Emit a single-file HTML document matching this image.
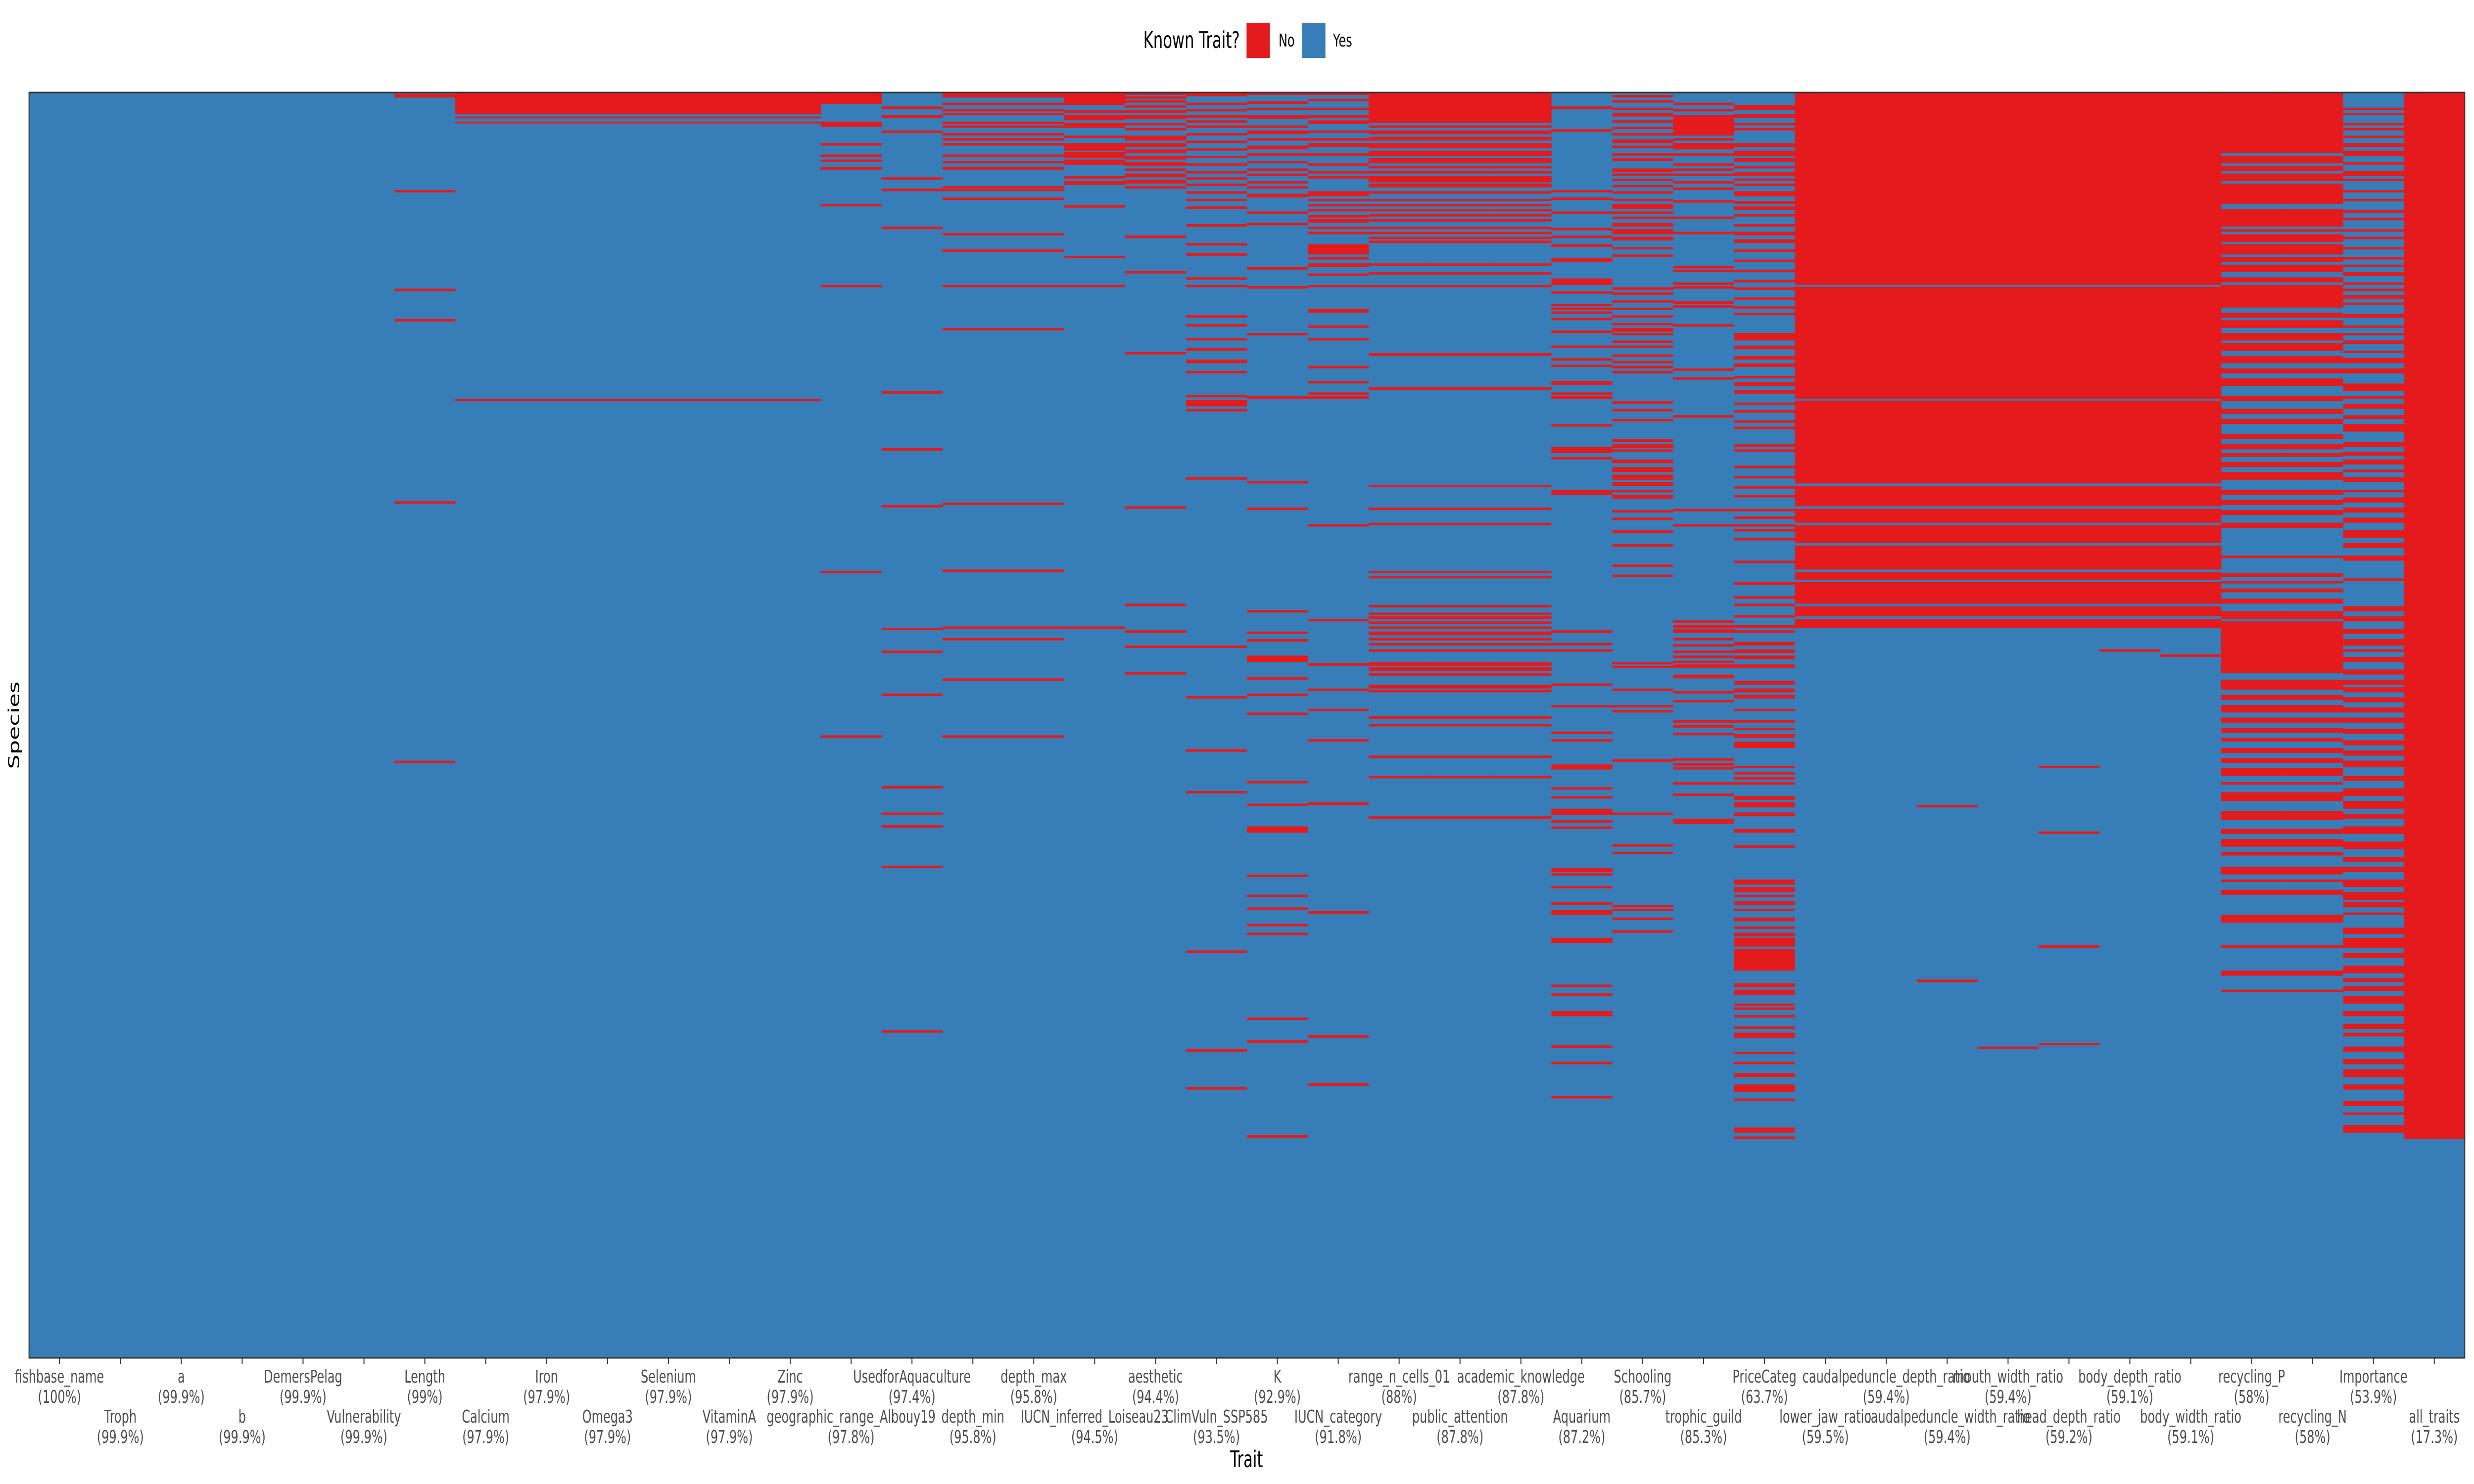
<!DOCTYPE html>
<html><head><meta charset="utf-8"><style>
html,body{margin:0;padding:0;background:#fff;width:100%;height:100%;overflow:hidden;}
svg{display:block;width:100vw;height:100vh;font-family:"DejaVu Sans","Liberation Sans",sans-serif;}
</style></head><body>
<svg id="chart" viewBox="0 0 7500 3000" preserveAspectRatio="none">
<g id="legend">
<text x="3466" y="97" font-size="46" fill="#000">Known Trait?</text>
<rect x="3779" y="46" width="71" height="71" fill="#e41a1c"/>
<text x="3876" y="94" font-size="36" fill="#000">No</text>
<rect x="3947" y="46" width="71" height="71" fill="#377eb8"/>
<text x="4041" y="94" font-size="36" fill="#000">Yes</text>
</g>
<g id="cells"></g>
<rect x="88" y="187" width="7384" height="2558" fill="none" stroke="#333" stroke-width="3"/>
<g id="xaxis"></g>
<text x="3779" y="2966" font-size="46" text-anchor="middle" fill="#000">Trait</text>
<text transform="translate(58,1466) rotate(-90)" font-size="46" text-anchor="middle" fill="#000">Species</text>
</svg>
<script>
const traitNames = ["fishbase_name","Troph","a","b","DemersPelag","Vulnerability","Length","Calcium","Iron","Omega3","Selenium","VitaminA","Zinc","geographic_range_Albouy19","UsedforAquaculture","depth_min","depth_max","IUCN_inferred_Loiseau23","aesthetic","ClimVuln_SSP585","K","IUCN_category","range_n_cells_01","public_attention","academic_knowledge","Aquarium","Schooling","trophic_guild","PriceCateg","lower_jaw_ratio","caudalpeduncle_depth_ratio","caudalpeduncle_width_ratio","mouth_width_ratio","head_depth_ratio","body_depth_ratio","body_width_ratio","recycling_P","recycling_N","Importance","all_traits"];
const knownPct = ["100%","99.9%","99.9%","99.9%","99.9%","99.9%","99%","97.9%","97.9%","97.9%","97.9%","97.9%","97.9%","97.8%","97.4%","95.8%","95.8%","94.5%","94.4%","93.5%","92.9%","91.8%","88%","87.8%","87.8%","87.2%","85.7%","85.3%","63.7%","59.5%","59.4%","59.4%","59.4%","59.2%","59.1%","59.1%","58%","58%","53.9%","17.3%"];
// missing (unknown) species row ranges per trait, in per-mille of species (0 = top row)
const missLength = [[1,4],[77,79],[155,157],[179,181],[323,325],[528,530]];
const missNutrient = [[0,17],[19,20.5],[23,24.5],[242,244]];
const missGeo = [[0,9],[23,27],[40,42],[49,51],[53,55],[59,61],[88,90],[152,154],[378,380],[508,510]];
const missAqua = [[11,13],[18,20],[30,32],[67,69],[76,78],[106,108],[236,238],[281,283],[326,328],[423,425],[441,443],[475,477],[548,550],[569,571],[579,581],[611,613],[741,743]];
const missDepth = [[0,4],[8,10],[13,15],[16,18],[23,25],[26,28],[32,34],[36,38],[40,42],[49,51],[54,56],[59,61],[74,76],[76.5,78],[83,85],[111,113],[124,126],[152,154],[186,188],[324,326],[377,379],[422,424],[431,433],[463,465],[508,510]];
const missIucnInf = [[0,10],[14,16],[18,22],[24,28],[34,36],[40,46],[47,52],[53,57],[66,68],[70,73],[89,91],[129,131],[152,154],[422,424]];
const missAesthetic = [[0,2],[3,5],[6,8],[10,12],[14,16],[18,21],[24,26],[28,30],[34,38],[40,43],[45,48],[50,53],[55,58],[60,62],[64,67],[69,72],[74,76],[113,115],[141,143],[205,207],[327,329],[404,406],[425,427],[437,439],[458,460]];
const missClim = [[0,3],[8,10],[13,15],[18,20],[22,24],[26,28],[32,34],[38,40],[44,46],[50,52],[56,58],[62,64],[67,69],[72,74],[78,80],[84,86],[90,92],[104,106],[119,121],[127,129],[146,148],[152,154],[176,178],[183,185],[194,196],[202,204],[211,214],[220,222],[239,241],[243,248],[250,252],[304,306],[437,439],[477,479],[519,521],[552,554],[678,680],[756,758],[786,788]];
const missK = [[0,2],[7,9],[12,14],[18,21],[26,28],[30,33],[36,38],[42,45],[48,50],[54,56],[60,62],[64,66],[70,72],[74,76],[80,83],[94,96],[103,105],[138,140],[153,155],[190,192],[240,242],[307,309],[328,330],[409,411],[426,428],[432,434],[445,450],[462,464],[475,477],[490,492],[544,546],[562,564],[580,585],[618,620],[634,636],[644,646],[657,659],[664,666],[731,733],[749,751],[824,826]];
const missIucnCat = [[0,2],[5,7],[12,14],[18,20],[22,25],[30,32],[36,38],[40,43],[48,50],[56,58],[62,64],[66,68],[78,82],[84,86],[88,90],[92,94],[97,99],[100,103],[106,108],[110,112],[120,128],[130,132],[135,138],[143,145],[152,154],[171,174],[184,186],[194,196],[216,218],[228,230],[237,239],[240,242],[341,343],[416,418],[451,453],[471,473],[487,489],[511,513],[561,563],[647,649],[745,747],[783,785]];
const missRange = [[0,24],[26,28],[30,33],[35,38],[40,44],[46,50],[52,56],[58,60],[62,64],[66,71],[72,75],[78,80],[84,86],[88,90],[92,94],[96,98],[100,102],[106,108],[110,112],[114,116],[117,119],[135,137],[142,144],[152,154],[206,208],[233,235],[310,312],[328,330],[340,342],[378,380],[382,384],[405,407],[411,413],[414,416],[418,420],[422,424],[426,429],[431,433],[435,437],[440,442],[450,453],[454,457],[459,461],[468,471],[472,474],[493,495],[499,501],[524,526],[540,542],[572,574]];
const missAquarium = [[11,13],[29,31],[77,79],[83,85],[94,96],[107,109],[113,115],[120,122],[131,134],[147,152],[157,159],[167,169],[170,172],[173,175],[178,180],[188,190],[200,202],[210,212],[215,217],[228,231],[237,239],[240,242],[262,264],[280,285],[288,290],[314,316],[316,318],[425,427],[435,437],[440,442],[467,469],[484,486],[505,507],[511,513],[531,535],[549,551],[556,558],[566,571],[575,577],[580,582],[613,616],[617,619],[627,629],[640,642],[646,650],[668,670],[670,672],[705,707],[712,714],[726,728],[728,730],[753,755],[766,768],[793,795]];
const missSchooling = [[2,4],[6,8],[12,14],[16,19],[22,24],[27,29],[32,34],[37,40],[42,44],[48,50],[52,54],[60,63],[64,66],[68,70],[73,75],[78,80],[84,86],[88,92],[94,96],[98,100],[103,106],[108,112],[114,117],[122,124],[128,130],[154,156],[158,160],[164,166],[170,172],[176,178],[182,184],[186,189],[190,192],[196,198],[200,202],[207,209],[212,214],[216,218],[220,222],[244,246],[250,252],[258,260],[274,276],[278,281],[282,284],[290,293],[296,300],[302,306],[308,311],[314,316],[318,321],[330,332],[336,338],[346,348],[357,359],[373,375],[381,383],[450,452],[453,455],[471,473],[484,486],[488,490],[527,529],[569,571],[594,596],[600,602],[642,644],[645,647],[652,654],[662,664]];
const missTrophic = [[8,10],[13,15],[18,34],[36,38],[40,45],[48,50],[56,58],[60,62],[64,66],[70,72],[75,77],[85,87],[98,100],[110,112],[137,139],[140,142],[150,152],[153,155],[165,167],[168,170],[183,185],[218,220],[225,227],[255,257],[329,331],[341,343],[417,419],[421,423],[424,427],[431,433],[436,438],[441,443],[445,447],[449,451],[452,455],[460,463],[473,475],[480,482],[496,498],[500,502],[506,508],[526,528],[530,532],[533,535],[545,547],[554,556],[574,576],[576,578]];
const missPrice = [[10,14],[17,20],[24,26],[28,30],[40,43],[46,50],[52,55],[58,60],[63,66],[68,70],[72,74],[78,82],[86,88],[90,93],[96,98],[104,106],[110,113],[116,119],[124,126],[132,134],[140,142],[148,150],[154,156],[162,164],[169,171],[174,176],[190,196],[200,203],[208,211],[214,217],[224,226],[229,232],[235,238],[245,247],[251,253],[259,261],[264,266],[278,280],[282,284],[295,297],[303,305],[311,313],[318,320],[329,331],[335,337],[341,343],[345,347],[352,354],[370,372],[387,389],[398,400],[404,406],[413,415],[421,423],[425,427],[434,437],[440,443],[445,448],[452,455],[465,468],[471,474],[476,479],[487,489],[496,498],[502,504],[507,510],[513,518],[532,534],[537,539],[541,543],[545,547],[556,559],[561,565],[569,572],[582,585],[595,597],[622,626],[628,632],[634,636],[639,642],[645,647],[652,655],[659,661],[664,667],[668,675],[677,694],[704,707],[709,713],[720,722],[723,725],[729,731],[738,740],[743,747],[758,760],[766,768],[775,778],[784,790],[795,797],[818,822],[825,827]];
const missMorpho = [[0,152],[153.5,242],[243.5,309],[311,327],[329,340],[342,356],[358,377],[379,385],[387,404],[406,414],[416,423]];
const missMorphoExtra = [[],[],[[563,565],[701,703]],[[754,756]],[[532,534],[584,586],[674,676],[751,753]],[[440,442]],[[444,446]]];
const missRecycling = [[0,48],[50,56],[58,62],[64,70],[72,88],[92,106],[108,110],[112,118],[120,128],[130,134],[136,142],[146,150],[152,170],[174,178],[180,186],[190,196],[198,204],[208,214],[218,222],[226,232],[240,244],[250,254],[258,262],[270,274],[278,282],[285,288],[292,296],[300,306],[314,318],[322,326],[330,334],[340,344],[366,368],[380,383],[386,388],[392,395],[400,404],[410,416],[418,459],[464,472],[476,480],[484,490],[494,498],[502,506],[510,513],[518,522],[526,530],[534,540],[545,547],[553,560],[568,575],[582,586],[590,596],[600,603],[612,618],[622,624],[630,634],[650,656],[674,676],[694,698],[709,711]];
const missImportance = [[12,14],[16,18],[24,26],[28,30],[34,36],[40,43],[46,50],[55,57],[62,66],[68,70],[77,79],[84,86],[93,95],[99,101],[108,110],[114,116],[122,124],[130,132],[136,138],[142,145],[150,152],[155,157],[160,163],[166,168],[175,178],[184,186],[190,192],[196,199],[204,206],[210,214],[218,222],[230,236],[240,242],[246,250],[255,258],[262,268],[276,280],[284,287],[290,294],[298,300],[304,308],[314,316],[320,324],[328,332],[336,340],[346,352],[356,360],[366,370],[384,386],[406,410],[414,418],[424,428],[432,437],[440,442],[446,450],[456,460],[464,468],[470,474],[478,482],[486,490],[494,498],[503,507],[512,516],[520,524],[528,533],[540,544],[550,556],[560,566],[570,574],[580,586],[592,598],[604,608],[612,616],[622,628],[632,638],[640,644],[648,650],[660,665],[668,676],[680,684],[690,696],[700,703],[706,710],[714,720],[726,730],[736,740],[743,746],[754,758],[764,768],[772,778],[784,788],[797,801],[806,808],[816,822]];
const missAll = [[0,827]];

const missingByTrait = [[],[],[],[],[],[],missLength,missNutrient,missNutrient,missNutrient,missNutrient,missNutrient,missNutrient,missGeo,missAqua,missDepth,missDepth,missIucnInf,missAesthetic,missClim,missK,missIucnCat,missRange,missRange,missRange,missAquarium,missSchooling,missTrophic,missPrice,
  missMorpho.concat(missMorphoExtra[0]),missMorpho.concat(missMorphoExtra[1]),missMorpho.concat(missMorphoExtra[2]),missMorpho.concat(missMorphoExtra[3]),missMorpho.concat(missMorphoExtra[4]),missMorpho.concat(missMorphoExtra[5]),missMorpho.concat(missMorphoExtra[6]),
  missRecycling,missRecycling,missImportance,missAll];

const NS="http://www.w3.org/2000/svg";
const X0=88, X1=7472, Y0=187, Y1=2745;
const colW=(X1-X0)/traitNames.length;
function xScale(i){return X0+i*colW;}
function yScale(pm){return Y0+(Y1-Y0)*pm/1000;}
const cells=document.getElementById('cells');
const bg=document.createElementNS(NS,'rect');
bg.setAttribute('x',X0);bg.setAttribute('y',Y0);bg.setAttribute('width',X1-X0);bg.setAttribute('height',Y1-Y0);bg.setAttribute('fill','#377eb8');


cells.appendChild(bg);
missingByTrait.forEach((ranges,i)=>{
  ranges.forEach(r=>{
    const el=document.createElementNS(NS,'rect');
    const y=yScale(r[0]);const h=Math.max(yScale(r[1])-y,3);
    el.setAttribute('x',xScale(i));el.setAttribute('width',colW+0.5);
    el.setAttribute('y',y);el.setAttribute('height',h);el.setAttribute('fill','#e41a1c');
    
    
    cells.appendChild(el);
  });
});
const xaxis=document.getElementById('xaxis');
traitNames.forEach((n,i)=>{
  const cx=xScale(i)+colW/2;
  const t=document.createElementNS(NS,'line');
  t.setAttribute('x1',cx);t.setAttribute('x2',cx);t.setAttribute('y1',Y1);t.setAttribute('y2',Y1+12);
  t.setAttribute('stroke','#333');t.setAttribute('stroke-width','3');
  
  
  xaxis.appendChild(t);
  const base=(i%2===0)?2795:2876;
  const l1=document.createElementNS(NS,'text');
  l1.setAttribute('x',cx);l1.setAttribute('y',base);l1.setAttribute('text-anchor','middle');
  l1.setAttribute('font-size','36');l1.setAttribute('fill','#4d4d4d');
  l1.textContent=n;
  
  
  xaxis.appendChild(l1);
  const l2=document.createElementNS(NS,'text');
  l2.setAttribute('x',cx);l2.setAttribute('y',base+41);l2.setAttribute('text-anchor','middle');
  l2.setAttribute('font-size','36');l2.setAttribute('fill','#4d4d4d');
  l2.textContent='('+knownPct[i]+')';
  
  
  xaxis.appendChild(l2);
});
</script>
</body></html>
